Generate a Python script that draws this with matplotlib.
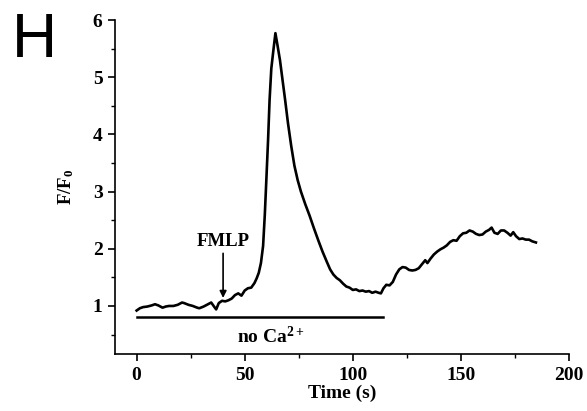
import matplotlib
matplotlib.use("Agg")
import matplotlib.pyplot as plt
from matplotlib.ticker import MultipleLocator

plt.rcParams['font.family'] = ['Liberation Serif', 'DejaVu Serif']
plt.rcParams['font.weight'] = 'bold'
plt.rcParams['mathtext.fontset'] = 'custom'
plt.rcParams['mathtext.rm'] = 'Liberation Serif:bold'
plt.rcParams['mathtext.bf'] = 'Liberation Serif:bold'
plt.rcParams['mathtext.it'] = 'Liberation Serif:bold'

time_s = [0, 1.5, 3, 5, 7, 8.5, 10, 12, 13.5, 15, 17, 19, 21, 22, 24, 26, 28, 29, 31, 33,
          34.5, 36, 36.8, 38, 39.5, 41, 42.5, 44, 45.5, 47, 48.5, 50, 51.5, 53, 54.5, 55.5,
          56.5, 57.5, 58.5, 59.3, 60, 60.8, 61.5, 62.3, 63.2, 64.2, 65.2, 66.3, 67.5, 68.7,
          70, 71.5, 73, 74.5, 76, 78, 80, 82, 84, 86, 88, 89.5, 91, 92.5, 94, 95.5, 97, 98.5,
          100, 101.5, 103, 104.5, 106, 107.5, 109, 110.5, 112, 113, 114.2, 115.5, 117, 118.5,
          120, 121.5, 123, 124.5, 126, 127.5, 129, 130.5, 132, 133.5, 134.5, 136, 137.5,
          139, 140.5, 142, 143.5, 145, 146.5, 148, 149.5, 151, 152.5, 154, 155.5, 157,
          158.5, 160, 161.5, 163, 164.2, 165.5, 167, 168.5, 170, 171.5, 173, 174.2, 175.5,
          177, 178.5, 180, 181.5, 183, 184.7]
ratio = [0.92, 0.96, 0.98, 0.99, 1.01, 1.03, 1.01, 0.97, 0.99, 1.00, 1.00, 1.02, 1.06, 1.05,
         1.02, 1.00, 0.97, 0.96, 0.99, 1.03, 1.06, 0.98, 0.94, 1.05, 1.09, 1.08, 1.10, 1.13,
         1.19, 1.22, 1.18, 1.27, 1.31, 1.32, 1.40, 1.48, 1.58, 1.75, 2.05, 2.6, 3.2, 3.9,
         4.6, 5.15, 5.45, 5.77, 5.55, 5.3, 4.95, 4.6, 4.2, 3.8, 3.45, 3.2, 3.0, 2.78,
         2.58, 2.36, 2.15, 1.95, 1.77, 1.64, 1.55, 1.49, 1.45, 1.39, 1.34, 1.32, 1.28, 1.29,
         1.26, 1.27, 1.25, 1.26, 1.23, 1.25, 1.23, 1.22, 1.31, 1.37, 1.36, 1.42, 1.55, 1.64,
         1.68, 1.67, 1.63, 1.62, 1.63, 1.66, 1.73, 1.80, 1.75, 1.83, 1.90, 1.95, 1.99, 2.02,
         2.06, 2.12, 2.15, 2.14, 2.22, 2.27, 2.28, 2.32, 2.30, 2.26, 2.24, 2.25, 2.30, 2.33,
         2.37, 2.28, 2.26, 2.32, 2.32, 2.28, 2.23, 2.29, 2.22, 2.17, 2.18, 2.16, 2.16, 2.13,
         2.11]

no_ca_span = [0, 114]
no_ca_level = 0.81
fmlp_time = 40

n = min(len(time_s), len(ratio))
fig = plt.figure(figsize=(5.87, 4.11), dpi=100)
ax = fig.add_axes([115/587, 1-354/411, (569-115)/587, (354-20)/411])
ax.plot(time_s[:n], ratio[:n], color='black', lw=1.9, solid_joinstyle='round')
ax.plot(no_ca_span, [no_ca_level, no_ca_level], color='black', lw=1.8)
ax.text(62, 0.47, r'no Ca$^{2+}$', ha='center', va='center', fontsize=14, fontweight='bold')
ax.annotate('', xy=(fmlp_time, 1.14), xytext=(fmlp_time, 1.92),
            arrowprops=dict(arrowstyle='-|>', color='black', lw=1.2, mutation_scale=10,
                            shrinkA=0, shrinkB=0))
ax.text(fmlp_time, 2.12, 'FMLP', ha='center', va='center', fontsize=13.5, fontweight='bold')

ax.set_xlim(-10, 200)
ax.set_ylim(0.16, 6)
ax.xaxis.set_major_locator(MultipleLocator(50))
ax.xaxis.set_minor_locator(MultipleLocator(25))
ax.yaxis.set_major_locator(MultipleLocator(1))
ax.yaxis.set_minor_locator(MultipleLocator(0.5))
for s in ['top', 'right']:
    ax.spines[s].set_visible(False)
for s in ['left', 'bottom']:
    ax.spines[s].set_linewidth(1.2)
ax.tick_params(which='major', direction='out', length=5, width=1.2, labelsize=14, pad=4)
ax.tick_params(which='minor', direction='out', length=3, width=1.0)
for lab in ax.get_xticklabels() + ax.get_yticklabels():
    lab.set_fontweight('bold')
ax.set_xlabel('Time (s)', fontsize=14, fontweight='bold', labelpad=1)
ax.set_ylabel(r'F/F$_0$', fontsize=13.5, fontweight='bold', labelpad=12)

fig.text(12/587, 1-57/411, 'H', fontsize=45, family='Liberation Sans', fontweight='normal',
         ha='left', va='baseline')

fig.savefig('out.png', dpi=100)
